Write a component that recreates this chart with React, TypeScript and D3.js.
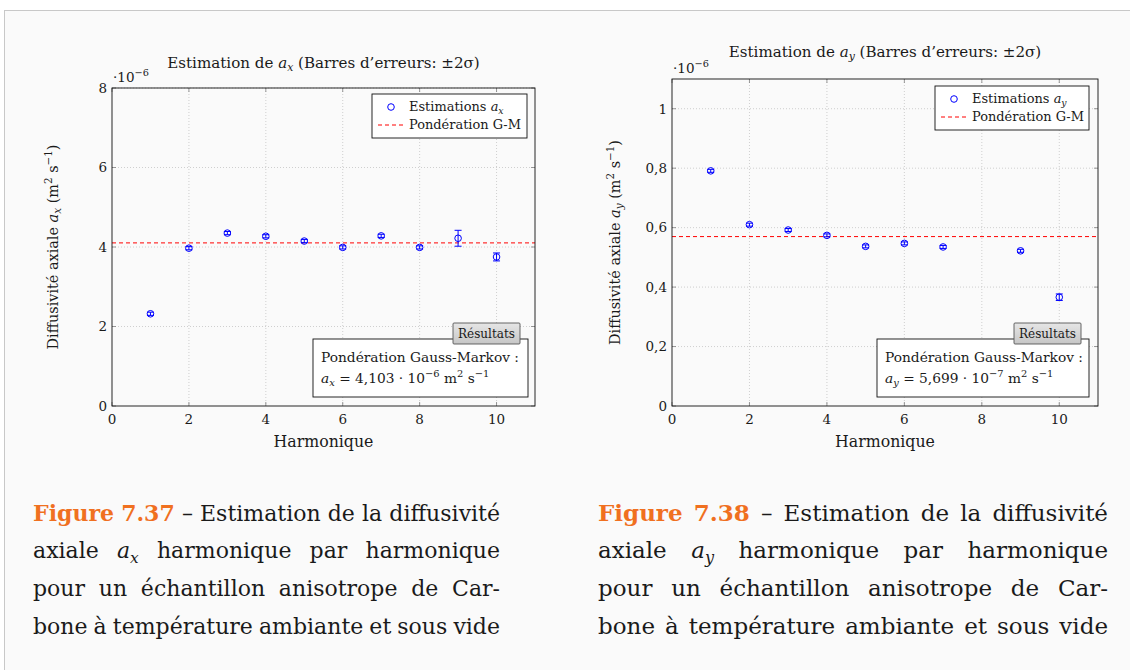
import React from 'react';
import * as d3 from 'd3';

// ---------- data ----------
const harmonicsAx = [1, 2, 3, 4, 5, 6, 7, 8, 9, 10];
const valuesAx = [2.32, 3.97, 4.35, 4.27, 4.15, 3.99, 4.28, 3.99, 4.22, 3.75];
const errorsAx = [0.04, 0.04, 0.04, 0.04, 0.04, 0.04, 0.04, 0.04, 0.2, 0.1];
const gmAx = 4.103;

const harmonicsAy = [1, 2, 3, 4, 5, 6, 7, 9, 10];
const valuesAy = [0.791, 0.61, 0.592, 0.574, 0.537, 0.547, 0.535, 0.522, 0.366];
const errorsAy = [0.005, 0.005, 0.005, 0.005, 0.005, 0.005, 0.005, 0.005, 0.011];
const gmAy = 0.5699;

const xTicks = [0, 2, 4, 6, 8, 10];
const yTicksAx = [0, 2, 4, 6, 8];
const yTicksAy = [0, 0.2, 0.4, 0.6, 0.8, 1];

const FAMILY = 'DejaVu Serif';
const FONT = "'DejaVu Serif', serif";
const BLUE = '#0000ff';
const RED = '#ff0000';
const INK = '#1a1a1a';
const ORANGE = '#f0701f';

type Tok = { t: string; bold?: boolean; italic?: boolean; color?: string; sub?: string };

let _ctx: CanvasRenderingContext2D | null = null;
function measure(text: string, size: number, bold?: boolean, italic?: boolean) {
  if (!_ctx) {
    const c = document.createElement('canvas');
    _ctx = c.getContext('2d');
  }
  if (!_ctx) return text.length * size * 0.56;
  _ctx.font = `${italic ? 'italic ' : ''}${bold ? 'bold ' : ''}${size}px '${FAMILY}'`;
  return _ctx.measureText(text).width;
}
// font size that makes a sample string span a given width
function fitSize(sample: string, width: number) {
  return (width / measure(sample, 100)) * 100;
}

function tokWidth(tok: Tok, size: number) {
  let w = measure(tok.t, size, tok.bold, tok.italic);
  if (tok.sub) w += measure(tok.sub, size * 0.7, false, true);
  return w;
}

function Caption({ x0, x1, baselines, lines }: { x0: number; x1: number; baselines: number[]; lines: Tok[][] }) {
  const avail = x1 - x0;
  let size = 23;
  lines.forEach((words) => {
    const w100 = d3.sum(words.map((w) => tokWidth(w, 100)));
    const s = ((avail - (words.length - 1) * 6) / w100) * 100;
    if (s < size) size = s;
  });
  return (
    <g fontFamily={FONT} fontSize={size} fill={INK}>
      {lines.map((words, li) => {
        const widths = words.map((w) => tokWidth(w, size));
        const total = d3.sum(widths);
        const gap = (avail - total) / (words.length - 1);
        let x = x0;
        return words.map((w, wi) => {
          const el = (
            <text
              key={`${li}-${wi}`}
              x={x}
              y={baselines[li]}
              fontWeight={w.bold ? 'bold' : 'normal'}
              fontStyle={w.italic ? 'italic' : 'normal'}
              fill={w.color || INK}
            >
              {w.t}
              {w.sub ? (
                <tspan dy={5} fontSize={size * 0.7}>
                  {w.sub}
                </tspan>
              ) : null}
            </text>
          );
          x += widths[wi] + gap;
          return el;
        });
      })}
    </g>
  );
}

function captionLines(num: string, sym: string): Tok[][] {
  return [
    [
      { t: 'Figure', bold: true, color: ORANGE },
      { t: num, bold: true, color: ORANGE },
      { t: '–' },
      { t: 'Estimation' },
      { t: 'de' },
      { t: 'la' },
      { t: 'diffusivité' },
    ],
    [{ t: 'axiale' }, { t: 'a', italic: true, sub: sym }, { t: 'harmonique' }, { t: 'par' }, { t: 'harmonique' }],
    [{ t: 'pour' }, { t: 'un' }, { t: 'échantillon' }, { t: 'anisotrope' }, { t: 'de' }, { t: 'Car-' }],
    [{ t: 'bone' }, { t: 'à' }, { t: 'température' }, { t: 'ambiante' }, { t: 'et' }, { t: 'sous' }, { t: 'vide' }],
  ];
}

type PlotProps = {
  left: number;
  right: number;
  top: number;
  bottom: number;
  yMax: number;
  yTicks: number[];
  fmt: (v: number) => string;
  xs: number[];
  ys: number[];
  errs: number[];
  gm: number;
  sym: string;
  gmText: string;
  gmExp: string;
  ylabelX: number;
  titleDy: number;
  legendW: number;
  legendRight: number;
  legendTop: number;
  resRight: number;
  resW: number;
};

function Plot(p: PlotProps) {
  const x = d3.scaleLinear().domain([0, 11]).range([p.left, p.right]);
  const y = d3.scaleLinear().domain([0, p.yMax]).range([p.bottom, p.top]);
  const cx = (p.left + p.right) / 2;
  const cy = (p.top + p.bottom) / 2;
  const tickCol = '#808080';
  const gridCol = '#c4c4c4';
  const line = d3.line<number>().x((d) => d).y(() => y(p.gm));

  const fsTitle = fitSize('Estimation de ax (Barres d’erreurs: ±2σ)', 315);
  const fsXlab = fitSize('Harmonique', 100);
  const fsYlab = fitSize('Diffusivité axiale ax (m2 s−1)', 216);
  const fsLeg = fitSize('Pondération G-M', 112);
  const fsRes = fitSize('Pondération Gauss-Markov :', 198);
  const fsTick = 13.5;
  const fsTag = fitSize('Résultats', 57);

  const lgL = p.legendRight - p.legendW;
  const lgT = p.legendTop;
  const resL = p.resRight - p.resW;
  const resT = p.bottom - 67;
  const resB = p.bottom - 9;
  const tagR = p.resRight - 8;
  const tagL = tagR - 67;
  const gradId = `tag-${p.sym}`;

  return (
    <g fontFamily={FONT} fill={INK}>
      <defs>
        <linearGradient id={gradId} x1="0" y1="0" x2="0" y2="1">
          <stop offset="0" stopColor="#e6e6e6" />
          <stop offset="1" stopColor="#c6c6c6" />
        </linearGradient>
      </defs>
      {/* grid */}
      {xTicks
        .filter((t) => t > 0)
        .map((t) => (
          <line key={`gx${t}`} x1={x(t)} x2={x(t)} y1={p.top} y2={p.bottom} stroke={gridCol} strokeWidth={0.8} strokeDasharray="1 2" />
        ))}
      {p.yTicks
        .filter((t) => t > 0)
        .map((t) => (
          <line key={`gy${t}`} x1={p.left} x2={p.right} y1={y(t)} y2={y(t)} stroke={gridCol} strokeWidth={0.8} strokeDasharray="1 2" />
        ))}
      {/* tick marks */}
      {xTicks.map((t) => (
        <g key={`tx${t}`} stroke={tickCol} strokeWidth={0.8}>
          <line x1={x(t)} x2={x(t)} y1={p.bottom} y2={p.bottom - 4} />
          <line x1={x(t)} x2={x(t)} y1={p.top} y2={p.top + 4} />
        </g>
      ))}
      {p.yTicks.map((t) => (
        <g key={`ty${t}`} stroke={tickCol} strokeWidth={0.8}>
          <line x1={p.left} x2={p.left + 4} y1={y(t)} y2={y(t)} />
          <line x1={p.right} x2={p.right - 4} y1={y(t)} y2={y(t)} />
        </g>
      ))}
      {/* GM line */}
      <path d={line([p.left, p.right]) || ''} stroke={RED} strokeWidth={1} strokeDasharray="4 3" fill="none" />
      {/* error bars and markers */}
      {p.xs.map((h, i) => {
        const px = x(h);
        const y0 = y(p.ys[i] - p.errs[i]);
        const y1 = y(p.ys[i] + p.errs[i]);
        return (
          <g key={`pt${h}`} stroke={BLUE} strokeWidth={1} fill="none">
            <line x1={px} x2={px} y1={y0} y2={y1} />
            <line x1={px - 3.5} x2={px + 3.5} y1={y0} y2={y0} />
            <line x1={px - 3.5} x2={px + 3.5} y1={y1} y2={y1} />
            <circle cx={px} cy={y(p.ys[i])} r={3.3} />
          </g>
        );
      })}
      {/* axis box */}
      <rect x={p.left} y={p.top} width={p.right - p.left} height={p.bottom - p.top} fill="none" stroke="#111" strokeWidth={0.9} />
      {/* tick labels */}
      {xTicks.map((t) => (
        <text key={`lx${t}`} x={x(t)} y={p.bottom + 18} textAnchor="middle" fontSize={fsTick}>
          {t}
        </text>
      ))}
      {p.yTicks.map((t) => (
        <text key={`ly${t}`} x={p.left - 5} y={y(t)} dy="0.36em" textAnchor="end" fontSize={fsTick}>
          {p.fmt(t)}
        </text>
      ))}
      <text x={p.left + 1} y={p.top - 6} fontSize={fsTick}>
        ·10
        <tspan dy={-6} fontSize={fsTick * 0.72}>
          −6
        </tspan>
      </text>
      {/* title */}
      <text x={cx} y={p.top + p.titleDy} textAnchor="middle" fontSize={fsTitle}>
        Estimation de <tspan fontStyle="italic">a</tspan>
        <tspan dy={3} fontSize={fsTitle * 0.72} fontStyle="italic">
          {p.sym}
        </tspan>
        <tspan dy={-3}> (Barres d’erreurs: ±2σ)</tspan>
      </text>
      {/* axis labels */}
      <text x={cx} y={p.bottom + 41} textAnchor="middle" fontSize={fsXlab}>
        Harmonique
      </text>
      <text transform={`translate(${p.ylabelX},${cy}) rotate(-90)`} textAnchor="middle" fontSize={fsYlab}>
        Diffusivité axiale <tspan fontStyle="italic">a</tspan>
        <tspan dy={3} fontSize={fsYlab * 0.72} fontStyle="italic">
          {p.sym}
        </tspan>
        <tspan dy={-3}> (m</tspan>
        <tspan dy={-6} fontSize={fsYlab * 0.72}>
          2
        </tspan>
        <tspan dy={6}> s</tspan>
        <tspan dy={-6} fontSize={fsYlab * 0.72}>
          −1
        </tspan>
        <tspan dy={6}>)</tspan>
      </text>
      {/* legend */}
      <rect x={lgL} y={lgT} width={p.legendW} height={44} fill="#fff" stroke="#111" strokeWidth={0.9} />
      <circle cx={lgL + 19} cy={lgT + 13} r={3.3} fill="none" stroke={BLUE} strokeWidth={1} />
      <text x={lgL + 37} y={lgT + 13} dy="0.33em" fontSize={fsLeg}>
        Estimations <tspan fontStyle="italic">a</tspan>
        <tspan dy={3} fontSize={fsLeg * 0.72} fontStyle="italic">
          {p.sym}
        </tspan>
      </text>
      <line x1={lgL + 6} x2={lgL + 32} y1={lgT + 31} y2={lgT + 31} stroke={RED} strokeWidth={1} strokeDasharray="4 3" />
      <text x={lgL + 37} y={lgT + 31} dy="0.33em" fontSize={fsLeg}>
        Pondération G-M
      </text>
      {/* results box */}
      <rect x={resL} y={resT} width={p.resW} height={resB - resT} fill="#fff" stroke="#111" strokeWidth={0.9} />
      <rect x={tagL} y={resT - 16} width={tagR - tagL} height={21} fill={`url(#${gradId})`} stroke="#555" strokeWidth={0.9} rx={1} />
      <text x={(tagL + tagR) / 2} y={resT - 5.5} dy="0.35em" textAnchor="middle" fontSize={fsTag}>
        Résultats
      </text>
      <text x={resL + 8} y={resT + 23} fontSize={fsRes}>
        Pondération Gauss-Markov :
      </text>
      <text x={resL + 8} y={resT + 44} fontSize={fsRes}>
        <tspan fontStyle="italic">a</tspan>
        <tspan dy={3} fontSize={fsRes * 0.72} fontStyle="italic">
          {p.sym}
        </tspan>
        <tspan dy={-3}> = {p.gmText} · 10</tspan>
        <tspan dy={-6} fontSize={fsRes * 0.72}>
          {p.gmExp}
        </tspan>
        <tspan dy={6}> m</tspan>
        <tspan dy={-6} fontSize={fsRes * 0.72}>
          2
        </tspan>
        <tspan dy={6}> s</tspan>
        <tspan dy={-6} fontSize={fsRes * 0.72}>
          −1
        </tspan>
      </text>
    </g>
  );
}

const fmtAx = (v: number) => d3.format('~g')(v);
const fmtAy = (v: number) => d3.format('~g')(v).replace('.', ',');

export default function App() {
  return (
    <div style={{ position: 'absolute', left: 0, top: 0 }}>
      <svg width={1130} height={670} style={{ display: 'block' }}>
        <rect x={0} y={0} width={1130} height={670} fill="#ffffff" />
        <rect x={4.5} y={10.5} width={1200} height={700} fill="#fafafa" stroke="#c8c8c8" strokeWidth={1} />
        <Plot
          left={112}
          right={535}
          top={88}
          bottom={406}
          yMax={8}
          yTicks={yTicksAx}
          fmt={fmtAx}
          xs={harmonicsAx}
          ys={valuesAx}
          errs={errorsAx}
          gm={gmAx}
          sym="x"
          gmText="4,103"
          gmExp="−6"
          ylabelX={58}
          titleDy={-20}
          legendW={155}
          legendRight={527}
          legendTop={94}
          resRight={528}
          resW={215}
        />
        <Plot
          left={672}
          right={1098}
          top={79}
          bottom={406}
          yMax={1.1}
          yTicks={yTicksAy}
          fmt={fmtAy}
          xs={harmonicsAy}
          ys={valuesAy}
          errs={errorsAy}
          gm={gmAy}
          sym="y"
          gmText="5,699"
          gmExp="−7"
          ylabelX={620}
          titleDy={-22}
          legendW={154}
          legendRight={1089}
          legendTop={86}
          resRight={1089}
          resW={212}
        />
        <Caption x0={33} x1={500} baselines={[521, 558, 596, 634]} lines={captionLines('7.37', 'x')} />
        <Caption x0={598} x1={1108} baselines={[521, 558, 596, 634]} lines={captionLines('7.38', 'y')} />
      </svg>
    </div>
  );
}
